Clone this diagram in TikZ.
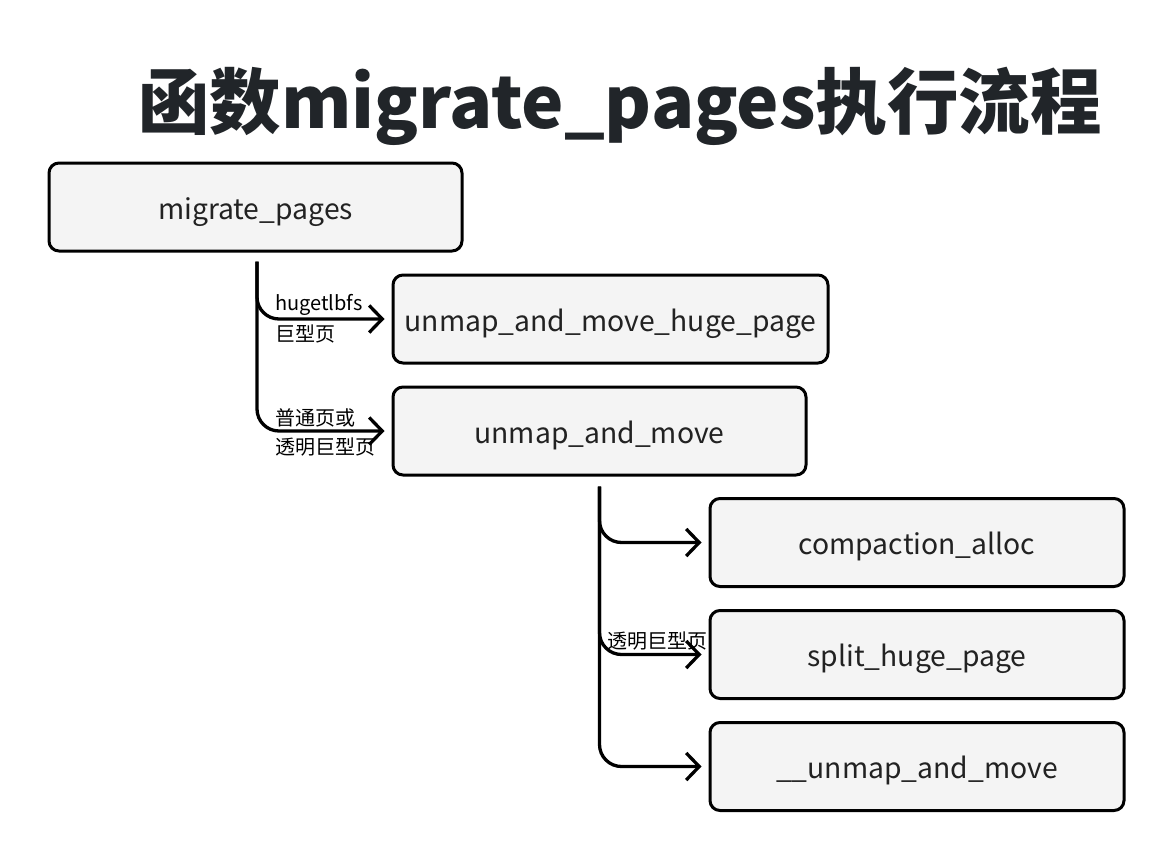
\documentclass[tikz,border=0pt]{standalone}
\usepackage{fontspec}
\setmainfont{Noto Sans CJK SC}
\usetikzlibrary{arrows.meta,calc}
\definecolor{boxfill}{HTML}{F4F4F4}
\definecolor{boxtext}{HTML}{222222}
\definecolor{titletext}{HTML}{212529}
\tikzset{
  fbox/.style={draw=black, line width=3pt, rounded corners=10pt, fill=boxfill,
    minimum height=88pt, inner sep=0pt, text=boxtext, text height=30pt, text depth=6pt,
    font=\fontsize{28.3}{32}\selectfont},
  conn/.style={line width=3.3pt, rounded corners=22pt,
    -{Straight Barb[length=13pt,width=27pt,line width=3.3pt]}, shorten >=7pt},
  lbl/.style={anchor=west, inner sep=0pt, font=\fontsize{20}{24}\selectfont, text=black}
}
\begin{document}
\begin{tikzpicture}[x=1pt,y=-1pt]
\useasboundingbox (0,0) rectangle (1174,862);
\node[font=\fontsize{71.5}{80}\selectfont\bfseries, text=titletext] (title) at (620,106) {函数migrate\_pages执行流程};

\node[fbox, minimum width=413pt] (mp) at (255.5,207) {migrate\_pages};
\node[fbox, minimum width=435pt] (uh) at (610.5,319) {unmap\_and\_move\_huge\_page};
\node[fbox, minimum width=413pt] (um) at (599.5,431) {unmap\_and\_move};
\node[fbox, minimum width=414pt] (ca) at (917,542.5) {compaction\_alloc};
\node[fbox, minimum width=414pt] (sh) at (917,654.5) {split\_huge\_page};
\node[fbox, minimum width=414pt] (uu) at (917,766.5) {\_\_unmap\_and\_move};

\coordinate (t1) at ($(mp.south)+(1.5,9)$);
\coordinate (t2) at ($(um.south)+(0,10)$);

\draw[conn] (t1) |- (uh.west);
\draw[conn] (t1) |- (um.west);
\draw[conn] (t2) |- (ca.west);
\draw[conn] (t2) |- (sh.west);
\draw[conn] (t2) |- (uu.west);

\node[lbl] (l1) at (275,305) {hugetlbfs};
\node[lbl] (l2) at (275,334) {巨型页};
\node[lbl] (l3) at (275,418) {普通页或};
\node[lbl] (l4) at (275,447) {透明巨型页};
\node[lbl] (l5) at (607,641) {透明巨型页};
\end{tikzpicture}
\end{document}
